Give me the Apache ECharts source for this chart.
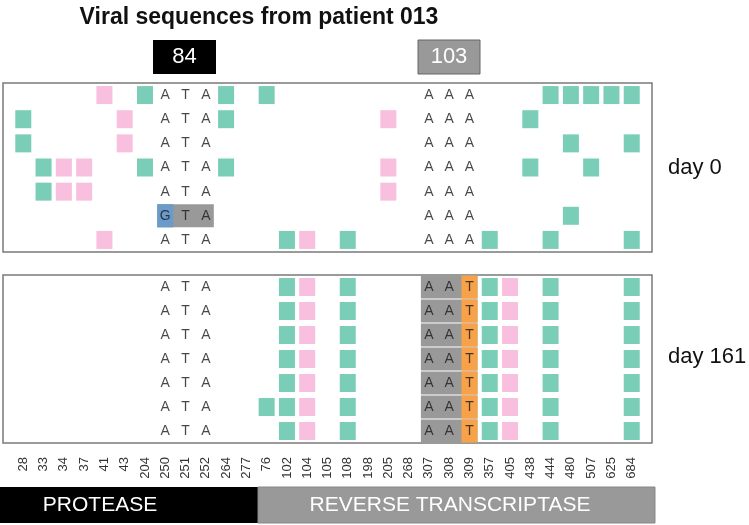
<!DOCTYPE html>
<html><head><meta charset="utf-8">
<script src="https://cdn.jsdelivr.net/npm/echarts@6/dist/echarts.min.js"></script>
<style>html,body{margin:0;padding:0;background:#fff}#c{width:749px;height:525px}</style>
</head><body><div id="c"></div>
<script>
// Nucleotide positions (columns)
var positions = ['28','33','34','37','41','43','204','250','251','252','264','277','76','102','104','105','108','198','205','268','307','308','309','357','405','438','444','480','507','625','684'];
var rows = ['1','2','3','4','5','6','7'];

// Day 0: mutations per sequence (row)
var day0Teal = [
  ['204','264','76','444','480','507','625','684'],
  ['28','264','438'],
  ['28','480','684'],
  ['33','204','264','438','507'],
  ['33'],
  ['480'],
  ['102','108','357','444','684']
];
var day0Pink = [
  ['41'],
  ['43','205'],
  ['43'],
  ['34','37','205'],
  ['34','37','205'],
  [],
  ['41','104']
];
var day0Codon84 = ['ATA','ATA','ATA','ATA','ATA','GTA','ATA'];
var day0Codon103 = ['AAA','AAA','AAA','AAA','AAA','AAA','AAA'];

// Day 161
var day161Teal = [
  ['102','108','357','444','684'],
  ['102','108','357','444','684'],
  ['102','108','357','444','684'],
  ['102','108','357','444','684'],
  ['102','108','357','444','684'],
  ['76','102','108','357','444','684'],
  ['102','108','357','444','684']
];
var day161Pink = [
  ['104','405'],['104','405'],['104','405'],['104','405'],['104','405'],['104','405'],['104','405']
];
var day161Codon84 = ['ATA','ATA','ATA','ATA','ATA','ATA','ATA'];
var day161Codon103 = ['AAT','AAT','AAT','AAT','AAT','AAT','AAT'];

// Highlighted codons: [startPos, endPos, row]
var day0GrayBands = [['250','252',6]];
var day0BlueCells = [['250',6]];
var day161GrayBands = [['307','309',1],['307','309',2],['307','309',3],['307','309',4],['307','309',5],['307','309',6],['307','309',7]];
var day161OrangeCells = [['309',1],['309',2],['309',3],['309',4],['309',5],['309',6],['309',7]];

var codon84Cols = ['250','251','252'];
var codon103Cols = ['307','308','309'];

var TEAL = '#7acdb7', PINK = '#f8bfdf', GRAY = '#999999', ORANGE = '#f7a248', BLUE = '#6a9bcb';
var FONT = '"Liberation Sans", Arial, sans-serif';

function idx(p){ return positions.indexOf(p); }
function marks(list){ var out=[]; list.forEach(function(r,i){ r.forEach(function(p){ out.push([idx(p), rows[i]]); }); }); return out; }
function letters(codons, cols){ var out=[]; codons.forEach(function(c,i){ for(var k=0;k<3;k++){ out.push([idx(cols[k]), rows[i], c[k]]); } }); return out; }
function bands(list){ return list.map(function(b){ return [idx(b[0]), idx(b[1]), rows[b[2]-1]]; }); }
function cells(list){ return list.map(function(b){ return [idx(b[0]), idx(b[0]), rows[b[1]-1]]; }); }

function bandRender(color){
  return function(params, api){
    var s = api.coord([api.value(0), api.value(2)]);
    var e = api.coord([api.value(1), api.value(2)]);
    var h = api.size([1, 1])[1];
    return { type:'rect', shape:{ x:s[0]-8, y:s[1]-h/2+0.5, width:e[0]-s[0]+16, height:h-1 }, style:{ fill: color } };
  };
}

function panelSeries(gi, teal, pink, c84, c103, grayB, colorCells, cellColor){
  var s = [];
  s.push({ type:'custom', xAxisIndex:gi, yAxisIndex:gi, renderItem: bandRender(GRAY), encode:{x:[0,1], y:2}, data: bands(grayB), z:1 });
  s.push({ type:'custom', xAxisIndex:gi, yAxisIndex:gi, renderItem: bandRender(cellColor), encode:{x:[0,1], y:2}, data: cells(colorCells), z:2 });
  s.push({ type:'scatter', xAxisIndex:gi, yAxisIndex:gi, symbol:'rect', symbolSize:[16,18], itemStyle:{color:TEAL, opacity:1}, data: marks(teal), z:3, silent:true });
  s.push({ type:'scatter', xAxisIndex:gi, yAxisIndex:gi, symbol:'rect', symbolSize:[16,18], itemStyle:{color:PINK, opacity:1}, data: marks(pink), z:3, silent:true });
  var lt = letters(c84, codon84Cols).concat(letters(c103, codon103Cols));
  s.push({ type:'scatter', xAxisIndex:gi, yAxisIndex:gi, symbolSize:0, data: lt, z:5, silent:true,
    label:{ show:true, position:'inside', formatter:function(p){ return p.data[2]; }, color:'#1a1a1a', fontSize:14, fontFamily:FONT } });
  return s;
}

var chart = echarts.init(document.getElementById('c'));
var xBase = { type:'value', min:-1, max:31, interval:1, axisLine:{show:false}, axisTick:{show:false}, splitLine:{show:false} };
chart.setOption({
  animation:false,
  backgroundColor:'#fff',
  grid:[
    { left:3, top:83, width:649, height:169, show:true, borderColor:'#7a7a7a', borderWidth:1.5, backgroundColor:'#fff' },
    { left:3, top:275, width:649, height:168, show:true, borderColor:'#7a7a7a', borderWidth:1.5, backgroundColor:'#fff' }
  ],
  xAxis:[
    Object.assign({ gridIndex:0, axisLabel:{show:false} }, xBase),
    Object.assign({ gridIndex:1, axisLabel:{ show:true, rotate:90, margin:14, fontSize:13, color:'#333', fontFamily:FONT,
      formatter:function(v){ return positions[v] || ''; } } }, xBase)
  ],
  yAxis:[
    { type:'category', gridIndex:0, data:rows, inverse:true, show:false },
    { type:'category', gridIndex:1, data:rows, inverse:true, show:false }
  ],
  series: panelSeries(0, day0Teal, day0Pink, day0Codon84, day0Codon103, day0GrayBands, day0BlueCells, BLUE)
    .concat(panelSeries(1, day161Teal, day161Pink, day161Codon84, day161Codon103, day161GrayBands, day161OrangeCells, ORANGE)),
  graphic:[
    { type:'text', x:259, y:18, style:{ text:'Viral sequences from patient 013', fill:'#111', font:'bold 23px ' + FONT, textAlign:'center', textVerticalAlign:'middle' } },
    { type:'rect', x:153, y:40, shape:{width:63, height:34}, style:{ fill:'#000' } },
    { type:'text', x:184.5, y:57, style:{ text:'84', fill:'#fff', font:'22px ' + FONT, textAlign:'center', textVerticalAlign:'middle' } },
    { type:'rect', x:418, y:40, shape:{width:62, height:34}, style:{ fill:'#999', stroke:'#666', lineWidth:1 } },
    { type:'text', x:449, y:57, style:{ text:'103', fill:'#fff', font:'22px ' + FONT, textAlign:'center', textVerticalAlign:'middle' } },
    { type:'text', x:668, y:168, style:{ text:'day 0', fill:'#111', font:'22px ' + FONT, textAlign:'left', textVerticalAlign:'middle' } },
    { type:'text', x:668, y:357, style:{ text:'day 161', fill:'#111', font:'22px ' + FONT, textAlign:'left', textVerticalAlign:'middle' } },
    { type:'rect', x:0, y:487, shape:{width:258, height:36}, style:{ fill:'#000' } },
    { type:'text', x:100, y:505, style:{ text:'PROTEASE', fill:'#fff', font:'21px ' + FONT, textAlign:'center', textVerticalAlign:'middle' } },
    { type:'rect', x:258, y:487, shape:{width:397, height:36}, style:{ fill:'#999', stroke:'#888', lineWidth:1 } },
    { type:'text', x:450, y:505, style:{ text:'REVERSE TRANSCRIPTASE', fill:'#fff', font:'21px ' + FONT, textAlign:'center', textVerticalAlign:'middle' } }
  ]
});
</script></body></html>
